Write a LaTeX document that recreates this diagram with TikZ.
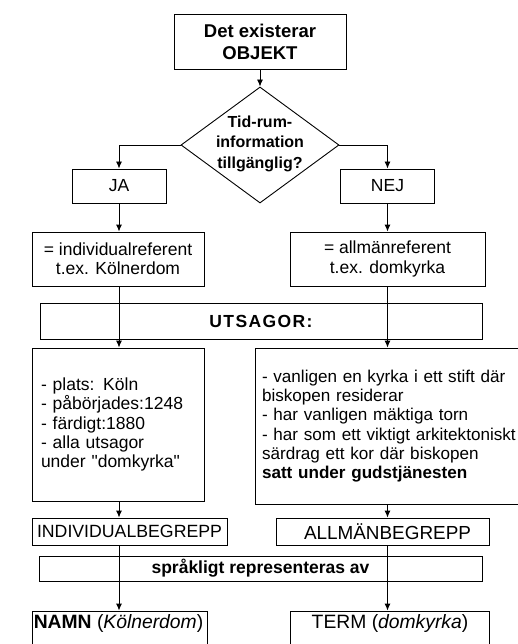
\documentclass[tikz,border=0pt]{standalone}
\usepackage{fontspec}
\setmainfont{Liberation Sans}
\usetikzlibrary{shapes.geometric,arrows.meta}
\begin{document}
\begin{tikzpicture}[x=1pt,y=-1pt,
  box/.style={draw, line width=0.9pt, inner sep=0pt, font=\fontsize{17.5}{19.3}\selectfont, align=center},
  boldtxt/.style={font=\bfseries\fontsize{17.5}{19.3}\selectfont},
  plaintxt/.style={inner sep=0pt, font=\fontsize{17.5}{19.3}\selectfont},
  bigtxt/.style={inner sep=0pt, font=\fontsize{19.3}{21}\selectfont},
  arr/.style={line width=0.9pt, -{Latex[length=7pt,width=6pt]}},
]
\useasboundingbox (0,0) rectangle (518,644);
\clip (0,0) rectangle (518,644);
\coordinate (cL) at (119,0);
\coordinate (cR) at (387.5,0);

\node[box, minimum width=172pt, minimum height=55pt, font=\bfseries\fontsize{18.5}{22}\selectfont] (top) at (260,41.5) {Det existerar\\OBJEKT};
\node[draw, diamond, line width=0.9pt, minimum width=158pt, minimum height=116pt, inner sep=0pt] (dia) at (260,145) {};
\node[inner sep=0pt, font=\bfseries\fontsize{16}{20.5}\selectfont, align=center] (diatxt) at (260,143.5) {Tid-rum-\\information\\tillgänglig?};

\node[box, minimum width=94pt, minimum height=34pt] (ja) at (119,186) {JA};
\node[box, minimum width=94pt, minimum height=34pt] (nej) at (387.5,186) {NEJ};

\node[box, minimum width=172pt, minimum height=54pt] (iref) at (118,259) {= individualreferent\\t.ex. Kölnerdom};
\node[box, minimum width=195pt, minimum height=54pt] (aref) at (387.5,259) {= allmänreferent\\t.ex. domkyrka};

\node[box, minimum width=442pt, minimum height=36pt, font=\bfseries\fontsize{17.5}{19.3}\selectfont\addfontfeature{LetterSpace=8}] (uts) at (261,321) {UTSAGOR:};

\node[box, minimum width=172pt, minimum height=153pt, text width=154pt, align=left] (lbox) at (118,424.5) {- plats: Köln\\- påbörjades:1248\\- färdigt:1880\\- alla utsagor\\under \textquotedbl domkyrka\textquotedbl};
\node[box, minimum width=274pt, minimum height=156pt, text width=260pt, align=left, font=\fontsize{17.1}{19.3}\selectfont] (rbox) at (392,426) {- vanligen en kyrka i ett stift där\\biskopen residerar\\- har vanligen mäktiga torn\\- har som ett viktigt arkitektoniskt\\särdrag ett kor där biskopen\\\textbf{satt under gudstjänesten}};

\node[box, minimum width=195pt, minimum height=27pt, font=\fontsize{17.7}{19.3}\selectfont] (ibeg) at (129.5,531.5) {INDIVIDUALBEGREPP};
\node[box, minimum width=213pt, minimum height=27pt] (abeg) at (382.5,531.5) {};
\node[bigtxt, font=\fontsize{18.9}{21}\selectfont] (abegtxt) at (387.5,531.5) {ALLMÄNBEGREPP};

\node[box, minimum width=443pt, minimum height=25pt, boldtxt] (spr) at (260.5,568.5) {språkligt representeras av};

\node[box, minimum width=175pt, minimum height=59pt] (namn) at (119.5,640.5) {};
\node[bigtxt] (namntxt) at (118.5,623.5) {\textbf{NAMN} (\textit{Kölnerdom})};
\node[box, minimum width=199pt, minimum height=59pt] (term) at (389.5,640.5) {};
\node[bigtxt] (termtxt) at (390,623.5) {TERM (\textit{domkyrka})};

\draw[arr] (top.south) -- (dia.north);
\draw[arr] (dia.west) -| (ja.north);
\draw[arr] (dia.east) -| (nej.north);
\draw[arr] (ja.south -| cL) -- (iref.north -| cL);
\draw[arr] (nej.south -| cR) -- (aref.north -| cR);
\draw[arr] (iref.south -| cL) -- (lbox.north -| cL);
\draw[arr] (aref.south -| cR) -- (rbox.north -| cR);
\draw[arr] (lbox.south -| cL) -- (ibeg.north -| cL);
\draw[arr] (rbox.south -| cR) -- (abeg.north -| cR);
\draw[arr] (ibeg.south -| cL) -- (namn.north -| cL);
\draw[arr] (abeg.south -| cR) -- (term.north -| cR);
\end{tikzpicture}
\end{document}
